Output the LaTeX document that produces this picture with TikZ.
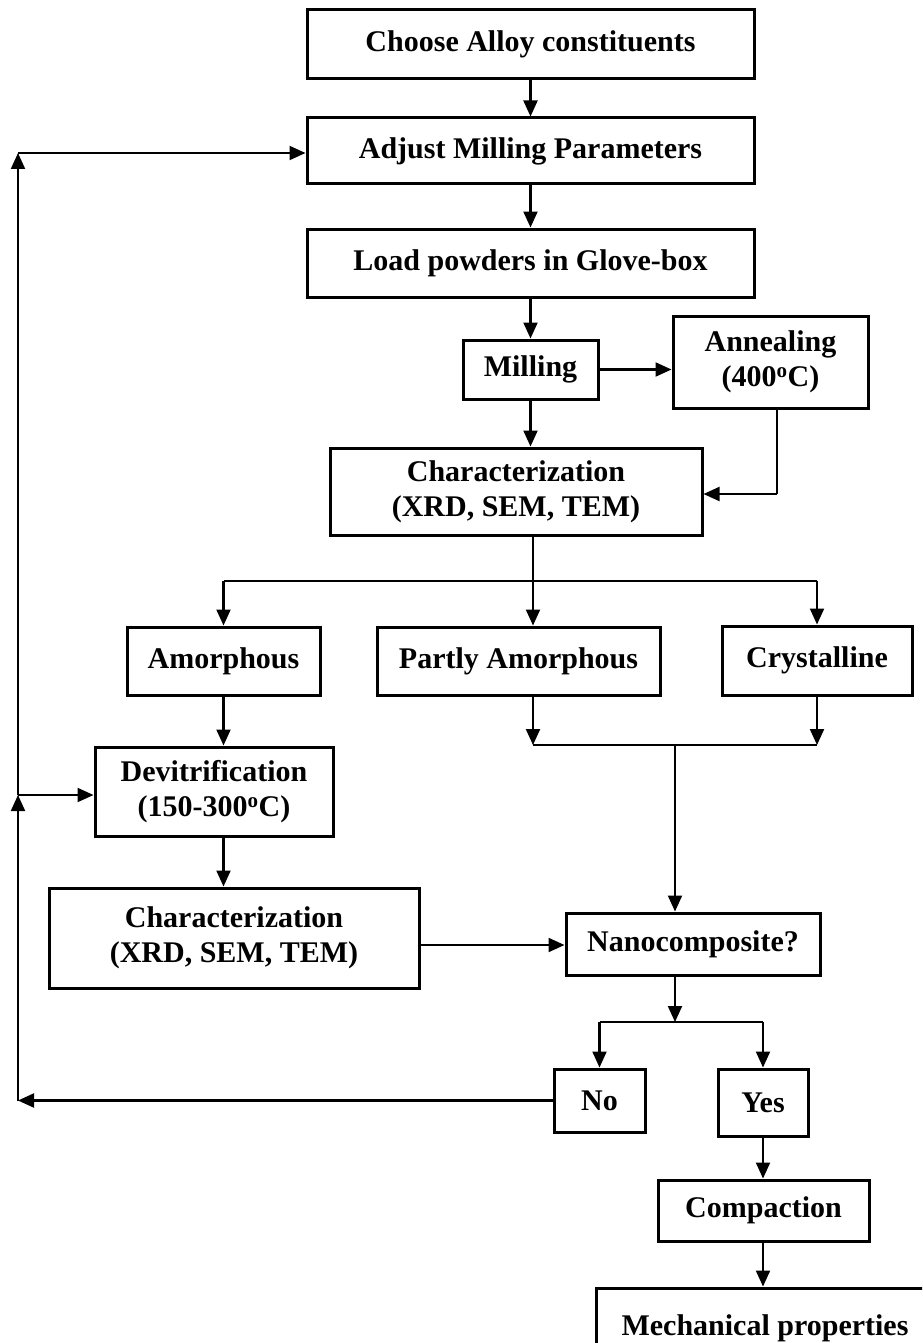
\documentclass[tikz,border=0pt]{standalone}
\usepackage{fontspec}
\setmainfont{Liberation Serif}
\usetikzlibrary{arrows.meta}
\begin{document}
\begin{tikzpicture}[x=1pt,y=-1pt,
  bx/.style={draw, line width=3pt, inner sep=0pt, align=center, font=\fontsize{30}{35}\selectfont\bfseries},
  ar/.style={line width=2.1pt, -{Triangle[length=16pt,width=14pt]}},
  ln/.style={line width=2.1pt}]
\useasboundingbox (0,0) rectangle (922,1343);
\clip (0,0) rectangle (922,1343);
\fill[white] (0,0) rectangle (922,1343);

\node[bx, minimum width=447pt, minimum height=69pt] (choose) at (530.5,44.5) {Choose Alloy constituents};
\node[bx, minimum width=447pt, minimum height=66pt] (adjust) at (530.5,151) {Adjust Milling Parameters};
\node[bx, minimum width=447pt, minimum height=68pt] (load) at (530.5,263) {Load powders in Glove-box};
\node[bx, minimum width=135pt, minimum height=59pt] (mill) at (530.5,369.5) {Milling};
\node[bx, minimum width=195pt, minimum height=92pt] (anneal) at (770.5,362) {Annealing\\(400\textsuperscript{o}C)};
\node[bx, minimum width=372pt, minimum height=87pt] (char1) at (516,491.5) {Characterization\\(XRD, SEM, TEM)};
\node[bx, minimum width=193pt, minimum height=68pt] (amor) at (223.5,661) {Amorphous};
\node[bx, minimum width=283pt, minimum height=68pt] (partly) at (518.5,661) {Partly Amorphous};
\node[bx, minimum width=190pt, minimum height=69pt] (cryst) at (817,660.5) {Crystalline};
\node[bx, minimum width=238pt, minimum height=89pt] (devit) at (214,791.5) {Devitrification\\(150-300\textsuperscript{o}C)};
\node[bx, minimum width=370pt, minimum height=100pt] (char2) at (234,938) {Characterization\\(XRD, SEM, TEM)};
\node[bx, minimum width=254pt, minimum height=62pt] (nano) at (693,944) {Nanocomposite?};
\node[bx, minimum width=91pt, minimum height=63pt] (no) at (599.5,1100.5) {No};
\node[bx, minimum width=90pt, minimum height=67pt] (yes) at (763,1102.5) {Yes};
\node[bx, minimum width=211pt, minimum height=61pt] (comp) at (763.5,1210.5) {Compaction};
\node[bx, minimum width=338pt, minimum height=80pt] (mech) at (765,1328) {Mechanical properties};

\coordinate (lt) at (18,153);
\coordinate (lm) at (18,795);
\coordinate (aj) at (777,494);
\coordinate (s1) at (533,581);
\coordinate (m1) at (675,745);
\coordinate (m2) at (675,1022);
\coordinate (c2e) at ([yshift=-7pt]char2.east);

\draw[ar] (choose.south) -- (adjust.north);
\draw[ar] (adjust.south) -- (load.north);
\draw[ar] (load.south) -- (mill.north);
\draw[ar] (mill.east) -- (mill.east -| anneal.west);
\draw[ar] (mill.south) -- (mill.south |- char1.north);
\draw[ln] (aj |- anneal.south) -- (aj);
\draw[ar] (aj) -- (aj -| char1.east);

\draw[ln] (s1 |- char1.south) -- (s1);
\draw[ln] (amor.north |- s1) -- (cryst.north |- s1);
\draw[ar] (amor.north |- s1) -- (amor.north);
\draw[ar] (s1) -- (s1 |- partly.north);
\draw[ar] (cryst.north |- s1) -- (cryst.north);

\draw[ar] (s1 |- partly.south) -- (s1 |- m1);
\draw[ar] (cryst.south) -- (cryst.south |- m1);
\draw[ln] (s1 |- m1) -- (cryst.south |- m1);
\draw[ar] (m1) -- (m1 |- nano.north);

\draw[ar] (amor.south) -- (amor.south |- devit.north);
\draw[ar] (amor.south |- devit.south) -- (amor.south |- char2.north);
\draw[ar] (c2e) -- (c2e -| nano.west);

\draw[ar] (m2 |- nano.south) -- (m2);
\draw[ln] (no.north |- m2) -- (yes.north |- m2);
\draw[ar] (no.north |- m2) -- (no.north);
\draw[ar] (yes.north |- m2) -- (yes.north);
\draw[ar] (yes.south) -- (yes.south |- comp.north);
\draw[ar] (yes.south |- comp.south) -- (yes.south |- mech.north);

\draw[ar] (no.west) -- (no.west -| lt);
\draw[ar] (no.west -| lt) -- (lm);
\draw[ar] (lm) -- (lt);
\draw[ar] (lt) -- (lt -| adjust.west);
\draw[ar] (lm) -- (lm -| devit.west);
\end{tikzpicture}
\end{document}
